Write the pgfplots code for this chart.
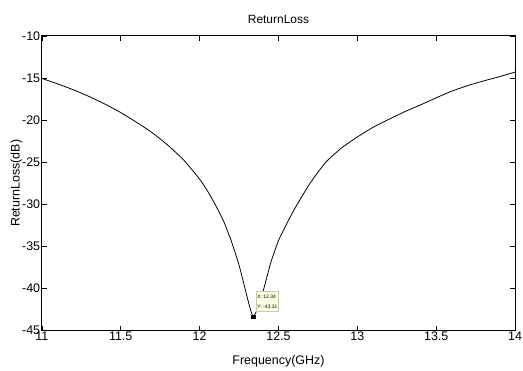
\documentclass[border=0pt]{standalone}
\usepackage{pgfplots}
\pgfplotsset{compat=1.18}
\usepackage{fontspec}
\setmainfont{Liberation Sans}
\definecolor{tipfill}{RGB}{255,255,225}
\definecolor{tipdraw}{RGB}{200,200,170}
\pgfplotstableread{
x y
11.00 -15.05
11.10 -15.70
11.20 -16.40
11.30 -17.20
11.40 -18.10
11.50 -19.10
11.60 -20.25
11.70 -21.50
11.80 -23.00
11.90 -24.75
12.00 -27.00
12.05 -28.40
12.10 -30.05
12.15 -31.90
12.20 -34.30
12.25 -37.20
12.30 -40.90
12.32 -42.30
12.34 -43.31
12.37 -42.30
12.40 -40.50
12.45 -37.00
12.50 -34.30
12.55 -32.40
12.60 -30.60
12.70 -27.50
12.80 -25.00
12.90 -23.30
13.00 -22.00
13.10 -20.85
13.20 -19.90
13.30 -19.00
13.40 -18.20
13.50 -17.35
13.60 -16.55
13.70 -15.90
13.80 -15.35
13.90 -14.85
14.00 -14.30
}\rl
\begin{document}
\begin{tikzpicture}
\begin{axis}[
  scale only axis,
  width=475pt, height=296pt,
  xmin=11, xmax=14, ymin=-45, ymax=-10,
  xtick={11,11.5,...,14}, ytick={-45,-40,...,-10},
  tick align=inside, major tick length=5pt,
  tick style={black, line width=0.6pt},
  axis line style={line width=1pt},
  /pgf/number format/assume math mode=true,
  xticklabel style={font=\fontsize{12.5}{14}\selectfont, inner sep=1pt},
  yticklabel style={font=\fontsize{12.5}{14}\selectfont, inner sep=1.5pt},
  xticklabel={\pgfmathprintnumber[fixed, precision=1]{\tick}},
  yticklabel={\pgfmathprintnumber[fixed]{\tick}},
  title={ReturnLoss},
  title style={font=\fontsize{12}{14}\selectfont, yshift=3pt},
  xlabel={Frequency(GHz)},
  ylabel={ReturnLoss(dB)},
  xlabel style={font=\fontsize{12.5}{14}\selectfont, yshift=-10pt},
  ylabel style={font=\fontsize{12.5}{14}\selectfont, yshift=-5pt},
  clip=false,
]
\addplot[black, line width=0.8pt, smooth, tension=0.35] table[x=x,y=y]{\rl};
\addplot[only marks, mark=square*, mark size=1.6pt, black] coordinates {(12.34,-43.31)};
\draw[fill=tipfill, draw=tipdraw, line width=0.5pt] (axis cs:12.36,-40.35) rectangle (axis cs:12.50,-42.7);
\node[anchor=west, font=\fontsize{5}{6}\selectfont, inner sep=0pt] at (axis cs:12.365,-41.0) {X: 12.34};
\node[anchor=west, font=\fontsize{5}{6}\selectfont, inner sep=0pt] at (axis cs:12.365,-42.1) {Y: -43.31};
\coordinate (bl) at (rel axis cs:0,0);
\coordinate (tr) at (rel axis cs:1,1);
\end{axis}
\path ([shift={(-42pt,-38pt)}]bl) rectangle ([shift={(6pt,36pt)}]tr);
\end{tikzpicture}
\end{document}
